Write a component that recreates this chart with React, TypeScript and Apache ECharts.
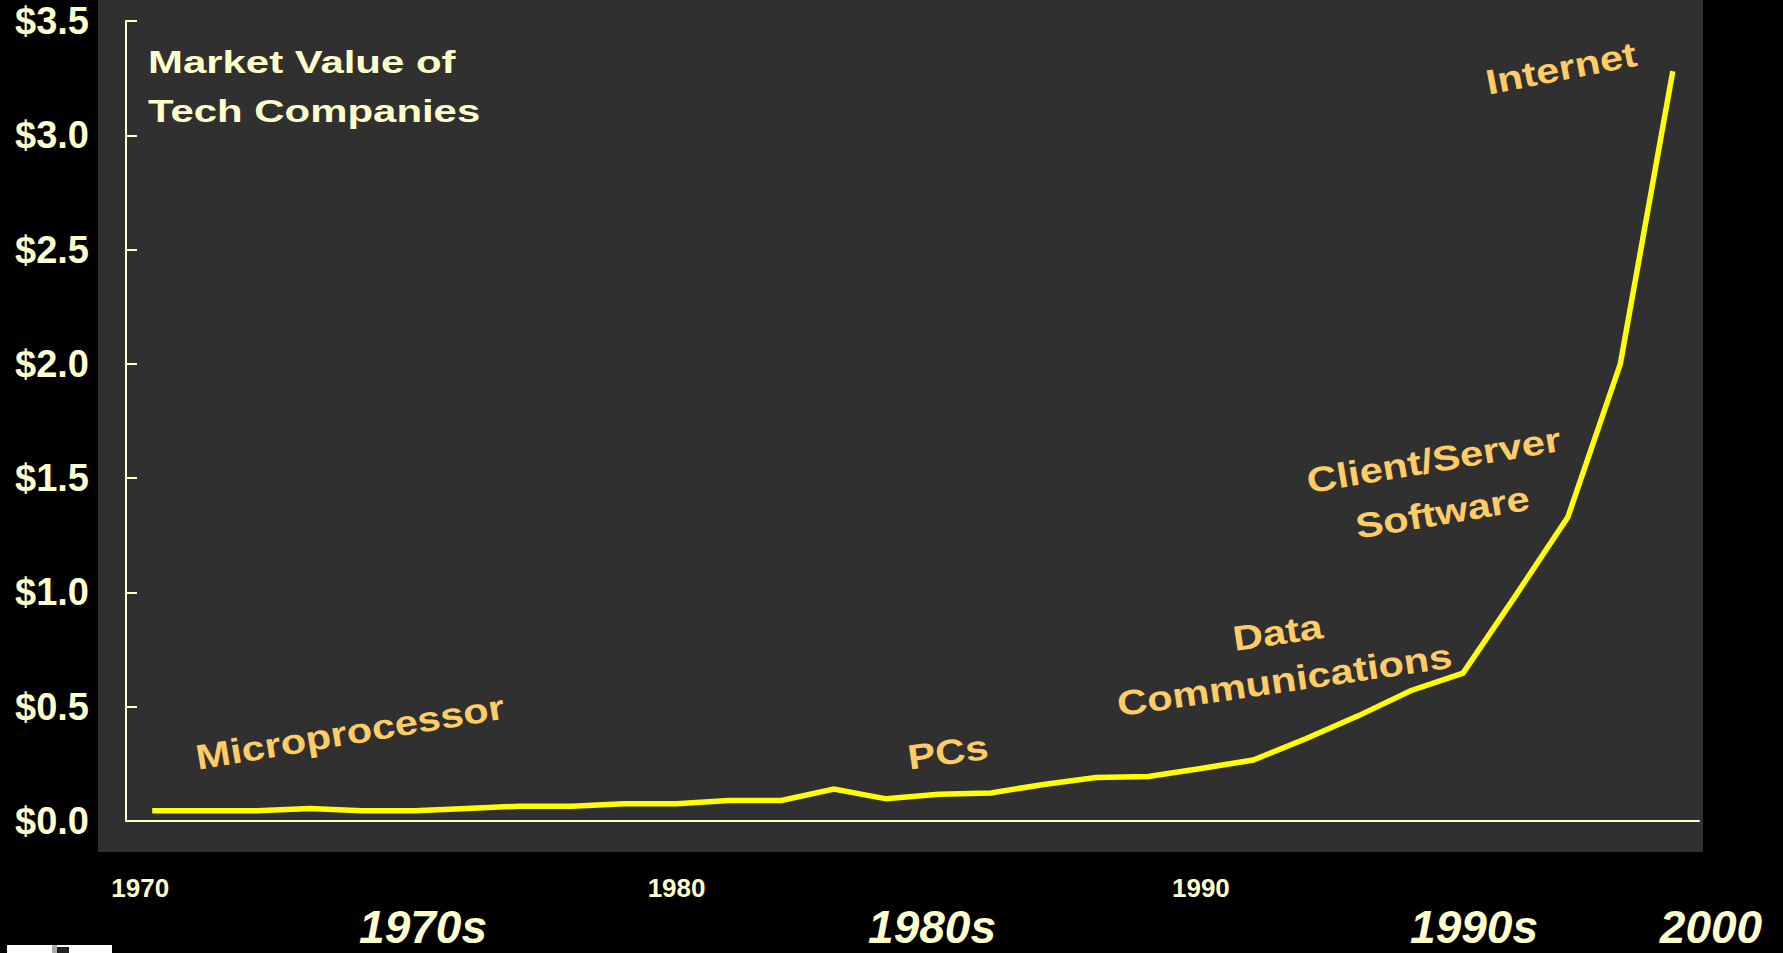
import React, { useEffect, useRef } from "react";
import * as echarts from "echarts";

const years = [
  "1970", "1971", "1972", "1973", "1974", "1975", "1976", "1977", "1978", "1979",
  "1980", "1981", "1982", "1983", "1984", "1985", "1986", "1987", "1988", "1989",
  "1990", "1991", "1992", "1993", "1994", "1995", "1996", "1997", "1998", "1999",
];
const marketValue = [
  0.045, 0.045, 0.045, 0.055, 0.045, 0.045, 0.055, 0.065, 0.065, 0.075,
  0.075, 0.09, 0.09, 0.14, 0.097, 0.117, 0.123, 0.16, 0.19, 0.195,
  0.23, 0.267, 0.36, 0.46, 0.57, 0.647, 0.985, 1.33, 2.0, 3.28,
];
const titleLines = ["Market Value of", "Tech Companies"];
const eraLabels = ["Microprocessor", "PCs", "Data\nCommunications", "Client/Server\nSoftware", "Internet"];
const decadeLabels = ["1970s", "1980s", "1990s", "2000"];

const FONT = '"Liberation Sans", Arial, sans-serif';
const CREAM = "#FFFFCC";
const ORANGE = "#FFCC66";

export default function App() {
  const ref = useRef<HTMLDivElement>(null);
  useEffect(() => {
    if (!ref.current) return;
    const chart = echarts.init(ref.current, null, { renderer: "svg" });
    const deg = Math.PI / 180;
    const eraPos = [
      { x: 350, y: 732, r: 9.5, lh: 48 },
      { x: 948, y: 752, r: 8, lh: 48 },
      { x: 1281, y: 656, r: 8.3, lh: 48 },
      { x: 1438, y: 486, r: 9.5, lh: 53 },
      { x: 1561, y: 68, r: 11, lh: 48 },
    ];
    const decadePos = [423, 932, 1474, 1711];
    const graphic: any[] = [
      {
        type: "rect",
        z: -10,
        silent: true,
        shape: { x: 98, y: 0, width: 1605, height: 852 },
        style: { fill: "#303030" },
      },
      {
        type: "rect",
        shape: { x: 7, y: 945, width: 105, height: 8 },
        style: { fill: "#ffffff" },
      },
      {
        type: "rect",
        shape: { x: 52, y: 945, width: 5, height: 8 },
        style: { fill: "#aaaaaa" },
      },
      {
        type: "rect",
        shape: { x: 57, y: 947, width: 12, height: 6 },
        style: { fill: "#222222" },
      },
      {
        type: "text",
        x: 148,
        y: 86,
        scaleX: 1.31,
        style: {
          text: titleLines.join("\n"),
          fill: CREAM,
          font: `bold 32px ${FONT}`,
          lineHeight: 49,
          align: "left",
          verticalAlign: "middle",
        },
      },
    ];
    eraLabels.forEach((t, i) => {
      const p = eraPos[i];
      graphic.push({
        type: "text",
        x: p.x,
        y: p.y,
        rotation: p.r * deg,
        scaleX: 1.19,
        style: {
          text: t,
          fill: ORANGE,
          font: `bold 35px ${FONT}`,
          lineHeight: p.lh,
          align: "center",
          verticalAlign: "middle",
        },
      });
    });
    decadeLabels.forEach((t, i) => {
      graphic.push({
        type: "text",
        x: decadePos[i],
        y: 927,
        style: {
          text: t,
          fill: CREAM,
          font: `italic bold 46px ${FONT}`,
          lineHeight: 46,
          align: "center",
          verticalAlign: "middle",
        },
      });
    });

    chart.setOption({
      animation: false,
      backgroundColor: "#000000",
      grid: { left: 126, right: 84, top: 21, bottom: 132, containLabel: false },
      xAxis: {
        type: "category",
        data: years,
        boundaryGap: true,
        axisLine: { show: true, lineStyle: { color: CREAM, width: 2 } },
        axisTick: { show: false },
        splitLine: { show: false },
        axisLabel: {
          interval: 9,
          margin: 54,
          color: CREAM,
          fontFamily: FONT,
          fontWeight: "bold",
          fontSize: 26,
          formatter: (v: string) => (v === "1970" ? "{a|" + v + "}" : v),
          rich: {
            a: {
              color: CREAM,
              fontFamily: FONT,
              fontWeight: "bold",
              fontSize: 26,
              padding: [0, 24, 0, 0],
            },
          },
        },
      },
      yAxis: {
        type: "value",
        min: 0,
        max: 3.5,
        interval: 0.5,
        axisLine: { show: true, lineStyle: { color: CREAM, width: 2 } },
        axisTick: { show: true, inside: true, length: 11, lineStyle: { color: CREAM, width: 2 } },
        splitLine: { show: false },
        axisLabel: {
          margin: 37,
          color: CREAM,
          fontFamily: FONT,
          fontWeight: "bold",
          fontSize: 38,
          formatter: (v: number) => "$" + v.toFixed(1),
        },
      },
      graphic,
      series: [
        {
          type: "line",
          data: marketValue,
          showSymbol: false,
          symbol: "none",
          lineStyle: { color: "#FFFF00", width: 5.5, join: "miter" },
          z: 5,
        },
      ],
    });
    return () => chart.dispose();
  }, []);
  return (
    <div
      ref={ref}
      style={{ position: "absolute", left: 0, top: 0, width: 1783, height: 953, background: "#000" }}
    />
  );
}
